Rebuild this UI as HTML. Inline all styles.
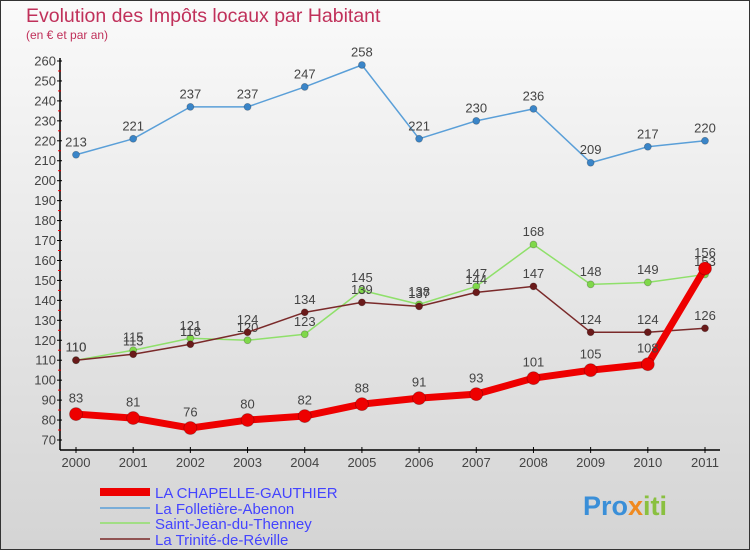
<!DOCTYPE html>
<html><head><meta charset="utf-8"><style>
body{margin:0;width:750px;height:550px;overflow:hidden;font-family:"Liberation Sans",sans-serif}
svg text{font-family:"Liberation Sans",sans-serif}
</style></head><body>
<svg width="750" height="550">
<defs><linearGradient id="bg" x1="0" y1="0" x2="0" y2="1"><stop offset="0" stop-color="#fafafa"/><stop offset="1" stop-color="#d4d4d4"/></linearGradient></defs>
<rect x="0.5" y="0.5" width="749" height="549" fill="url(#bg)" stroke="#333"/>
<text x="26" y="22" font-size="19.5" fill="#c0305a">Evolution des Impôts locaux par Habitant</text>
<text x="26" y="39" font-size="12" fill="#c0305a">(en € et par an)</text>
<g id="axes"></g>
<g id="series"></g>
<g>
<line x1="100" y1="492" x2="150" y2="492" stroke="#e00" stroke-width="8"/><text x="155" y="498" font-size="15" fill="#44f">LA CHAPELLE-GAUTHIER</text>
<line x1="100" y1="508" x2="150" y2="508" stroke="#5a9fd8" stroke-width="1.5"/><text x="155" y="514" font-size="15" fill="#44f">La Folletière-Abenon</text>
<line x1="100" y1="523" x2="150" y2="523" stroke="#8fe06a" stroke-width="1.5"/><text x="155" y="529" font-size="15" fill="#44f">Saint-Jean-du-Thenney</text>
<line x1="100" y1="539" x2="150" y2="539" stroke="#7a2a2a" stroke-width="1.5"/><text x="155" y="545" font-size="15" fill="#44f">La Trinité-de-Réville</text>
</g>
<text x="583" y="515" font-size="27" font-weight="bold" fill="#3a8fd8">Pro<tspan fill="#f08a20">x</tspan><tspan fill="#8ac040">iti</tspan></text>
</svg>
<script>
const years=[2000,2001,2002,2003,2004,2005,2006,2007,2008,2009,2010,2011];
const yTicks=[70,80,90,100,110,120,130,140,150,160,170,180,190,200,210,220,230,240,250,260];
const chapelle=[83,81,76,80,82,88,91,93,101,105,108,156];
const folletiere=[213,221,237,237,247,258,221,230,236,209,217,220];
const saintJean=[110,115,121,120,123,145,138,147,168,148,149,153];
const trinite=[110,113,118,124,134,139,137,144,147,124,124,126];
const NS="http://www.w3.org/2000/svg";
const xs=i=>76+i*(705-76)/11;
const ys=v=>440-(v-70)*(379/190);
function mk(t,a,p){const e=document.createElementNS(NS,t);for(const k in a)e.setAttribute(k,a[k]);p.appendChild(e);return e;}
const ax=document.getElementById('axes');
let l=mk('line',{x1:60,y1:58,x2:60,y2:450,stroke:'#000','stroke-width':1.5},ax);


l=mk('line',{x1:60,y1:450,x2:720,y2:450,stroke:'#000','stroke-width':1.5},ax);


yTicks.forEach(v=>{
 mk('line',{x1:57,y1:ys(v),x2:62,y2:ys(v),stroke:'#000'},ax);
 if(v<260)mk('line',{x1:58,y1:ys(v+5),x2:61,y2:ys(v+5),stroke:'#e00'},ax);
 const t=mk('text',{x:56,y:ys(v)+4.5,'font-size':13,fill:'#444','text-anchor':'end'},ax);
 t.textContent=v;
 
 
});
years.forEach((y,i)=>{
 mk('line',{x1:xs(i),y1:447,x2:xs(i),y2:453,stroke:'#000'},ax);
 const t=mk('text',{x:xs(i),y:467,'font-size':13,fill:'#444','text-anchor':'middle'},ax);
 t.textContent=y;
 
 
});
const sg=document.getElementById('series');
function draw(vals,color,w,r,name,dotColor){
 const g=mk('g',{},sg);
 
 
 mk('polyline',{points:vals.map((v,i)=>xs(i)+','+ys(v)).join(' '),fill:'none',stroke:color,'stroke-width':w,'stroke-linejoin':'round'},g);
 vals.forEach((v,i)=>{
  const c=mk('circle',{cx:xs(i),cy:ys(v),r:r,fill:dotColor,stroke:'rgba(0,0,0,0.25)','stroke-width':0.8},g);
  
  
  const t=mk('text',{x:xs(i),y:ys(v)-r-5,'font-size':13,fill:'#444','text-anchor':'middle'},g);
  t.textContent=v;
 });
}
draw(folletiere,'#5a9fd8',1.5,3.5,'series-la-folletiere','#3a85c8');
draw(saintJean,'#8fe06a',1.5,3.5,'series-saint-jean','#7fd84a');
draw(trinite,'#7a2a2a',1.5,3.5,'series-la-trinite','#6a1a1a');
draw(chapelle,'#ee0000',7,6.5,'series-la-chapelle-gauthier','#ee0000');
</script>
</body></html>
